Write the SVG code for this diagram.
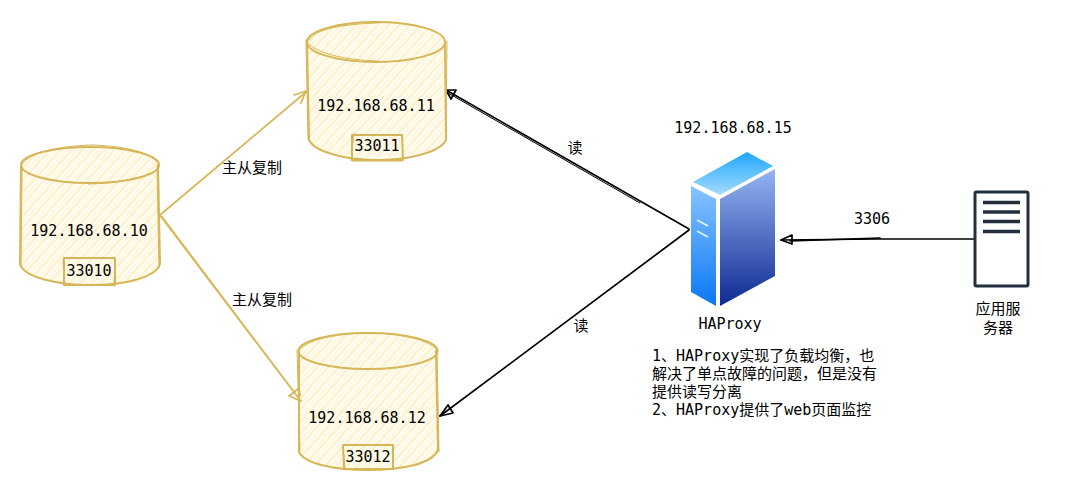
<svg xmlns="http://www.w3.org/2000/svg" width="1083" height="482" viewBox="0 0 1083 482">
<style>
.t{font-family:"DejaVu Sans Mono","Noto Sans CJK SC",monospace;font-size:15px;fill:#000;text-anchor:middle}
.c{font-family:"Noto Sans CJK SC","DejaVu Sans",sans-serif;font-size:15px;fill:#000;text-anchor:middle}
.p{font-family:"DejaVu Sans Mono","Noto Sans CJK SC",monospace;font-size:15px;fill:#000}
.s{fill:none;stroke:#d6b656;stroke-width:2;stroke-linecap:round;stroke-linejoin:round}
.s2{fill:none;stroke:#d6b656;stroke-width:1;stroke-linecap:round;stroke-linejoin:round}
.k{fill:none;stroke:#000;stroke-width:1.7;stroke-linecap:round;stroke-linejoin:round}
.k2{fill:none;stroke:#000;stroke-width:1;stroke-linecap:round;stroke-linejoin:round}
.y{fill:none;stroke:#d6b656;stroke-width:1.800;stroke-linecap:round;stroke-linejoin:round}
.h{fill:url(#hatch)}
</style>
<defs>
<pattern id="hatch" width="8" height="8" patternUnits="userSpaceOnUse" patternTransform="rotate(42)">
<rect x="0" y="0" width="3" height="8" fill="#fff2cc"/>
<rect x="5" y="0" width="1.400" height="8" fill="#fff2cc"/>
</pattern>
<linearGradient id="top" x1="0" y1="0" x2="0" y2="1"><stop offset="0" stop-color="#1ea6fb"/><stop offset="1" stop-color="#a5dcff"/></linearGradient>
<linearGradient id="left" x1="0" y1="0" x2="0" y2="1"><stop offset="0" stop-color="#87c3ff"/><stop offset="1" stop-color="#0a78f5"/></linearGradient>
<linearGradient id="right" x1="0" y1="0" x2="0" y2="1"><stop offset="0" stop-color="#94b4f2"/><stop offset="1" stop-color="#0c2a92"/></linearGradient>
</defs>

<g id="connectors">
<g id="edge-10-11"><path class="y" d="M160 215L306 92"/><path class="y" d="M294 95L306 91L301 103"/><text class="c" x="252" y="173">主从复制</text></g>
<g id="edge-10-12"><path class="y" d="M159 214L300 400"/><path class="s2" d="M162 216L298 397"/><path class="y" d="M289 396L301 401L299 388Z"/><text class="c" x="262" y="305">主从复制</text></g>
<g id="edge-15-11"><path class="k" d="M689 229L446 90"/><path class="k2" d="M640 203L448 93"/><path class="k" d="M456 90L446 90L451 99Z"/><text class="c" x="575" y="153">读</text></g>
<g id="edge-15-12"><path class="k" d="M689 230L440 416"/><path class="k" d="M448 405L440 416L453 413Z"/><text class="c" x="581" y="331">读</text></g>
<g id="edge-app-15"><path class="k" d="M974 239L878 239L781 240"/><path class="k" d="M880 238L790 241"/><path class="k" d="M792 235L781 240L792 244Z"/><text class="t" x="872" y="224">3306</text></g>
</g>

<g id="db-10">
<path class="h" d="M21 165A69 18 0 0 1 159 165L160 265A69 20 0 0 1 21 265Z"/>
<ellipse class="s" cx="90" cy="165" rx="69" ry="18"/>
<path class="s2" d="M22 164C30 152 60 146 92 145C125 146 150 152 158 163M88 184C112 184 145 178 157 170"/>
<path class="s" d="M21 165L20 264C24 278 60 285 90 285C125 285 155 278 160 264L158 165"/>
<path class="s2" d="M22 166L21 266M157 166L159 268"/>
<path class="s" d="M64 258H115V285H64Z"/><path class="s2" d="M63 259L64 285M115 258L114 286"/>
<text class="t" x="89" y="236">192.168.68.10</text>
<text class="t" x="89" y="276">33010</text>
</g>

<g id="db-11">
<path class="h" d="M307 42A69 20 0 0 1 446 42L446 140A69 20 0 0 1 309 140Z"/>
<ellipse class="s" cx="376" cy="42" rx="69" ry="20"/>
<path class="s2" d="M309 40C314 30 340 24 378 23M309 44C320 54 345 60 378 61"/>
<path class="s" d="M307 42L309 140C315 152 345 160 378 160C410 160 440 152 446 140L445 42"/>
<path class="s2" d="M306 40L308 138M447 41L446 136"/>
<path class="s" d="M352 135H402L403 160H352Z"/><path class="s2" d="M354 133L351 160M352 161H402"/>
<text class="t" x="376" y="111">192.168.68.11</text>
<text class="t" x="377" y="151">33011</text>
</g>

<g id="db-12">
<path class="h" d="M298 351A69 18 0 0 1 437 351L438 452A70 20 0 0 1 299 452Z"/>
<ellipse class="s" cx="368" cy="351" rx="69.500" ry="18"/>
<path class="s2" d="M299 350C310 338 340 333 370 333C400 333 430 340 437 350"/>
<path class="s" d="M299 352L299 452C305 464 335 470 368 470C402 470 432 464 438 450L436 351"/>
<path class="s2" d="M297 350L300 450M437 352L439 452"/>
<path class="s" d="M343 445H393V469H344Z"/><path class="s2" d="M343 446L345 470"/>
<text class="t" x="367" y="423">192.168.68.12</text>
<text class="t" x="368" y="462">33012</text>
</g>

<g id="haproxy">
<path fill="url(#top)" d="M747 152L773 166L720 195L693 182Z"/>
<path fill="url(#left)" d="M691 186L716 199V306L691 292Z"/>
<path fill="url(#right)" d="M720 199L775 169V276L720 306Z"/>
<path d="M697 220L708 226M697 231L708 237" stroke="#fff" stroke-width="1.5" opacity=".85" fill="none"/>
<text class="t" x="733" y="133">192.168.68.15</text>
<text class="t" x="730" y="329">HAProxy</text>
</g>

<g id="app-server">
<rect x="975" y="192" width="53" height="94" rx="1.500" fill="#fff" stroke="#232f3e" stroke-width="3"/>
<path d="M983 202.500H1020M983 212H1020M983 221.500H1020M983 231.500H1020" stroke="#232f3e" stroke-width="3.500" fill="none"/>
<text class="c" x="998" y="314">应用服</text>
<text class="c" x="998" y="333">务器</text>
</g>

<g id="note">
<text class="p" x="652" y="361">1、HAProxy实现了负载均衡，也</text>
<text class="p" x="652" y="379">解决了单点故障的问题，但是没有</text>
<text class="p" x="652" y="397">提供读写分离</text>
<text class="p" x="652" y="415">2、HAProxy提供了web页面监控</text>
</g>
</svg>
